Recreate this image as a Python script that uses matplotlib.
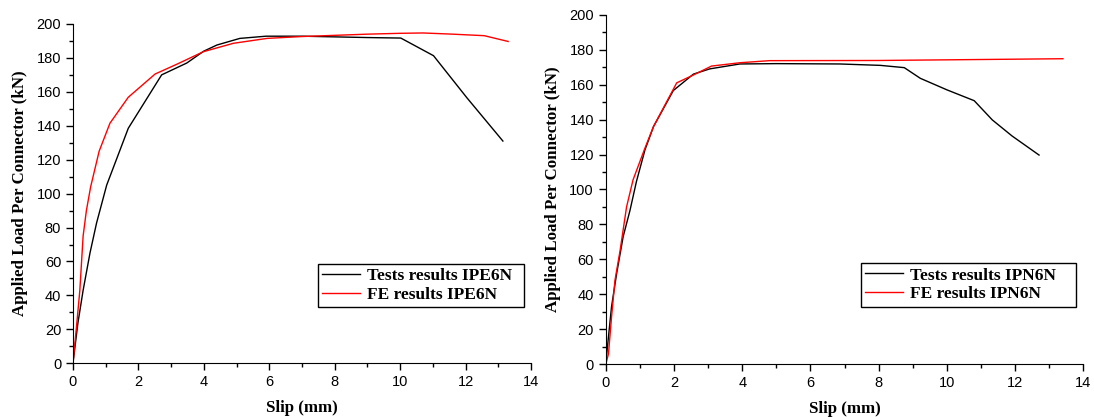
import matplotlib.pyplot as plt
from matplotlib.ticker import MultipleLocator

# IPE6N push-out test vs FE model
ipe_test_slip = [0, 0.15, 0.31, 0.52, 0.72, 1.03, 1.69, 2.71, 3.48, 4.0, 4.4, 5.1, 5.9, 7.0, 8.0, 9.0, 10.02, 11.02, 12.04, 13.14]
ipe_test_load = [0, 23.6, 43, 65, 82.6, 105, 138.5, 170, 177, 184, 187.6, 191.5, 192.8, 192.8, 192.4, 192.0, 191.7, 181.3, 156.5, 131]
ipe_fe_slip = [0, 0.1, 0.21, 0.31, 0.41, 0.54, 0.8, 1.13, 1.69, 2.51, 3.2, 3.99, 4.9, 5.93, 7.0, 8.0, 9.0, 10.0, 10.7, 11.6, 12.57, 13.3]
ipe_fe_load = [0, 20, 43, 75, 90, 104, 125, 141.5, 156.8, 170.5, 176.5, 183.7, 188.6, 191.5, 192.6, 193.3, 194.0, 194.5, 194.7, 194.0, 193.1, 189.7]

# IPN6N push-out test vs FE model
ipn_test_slip = [0, 0.05, 0.17, 0.32, 0.51, 0.71, 0.9, 1.15, 1.4, 1.98, 2.57, 3.05, 3.93, 5.0, 6.86, 8.05, 8.75, 9.22, 10.0, 10.8, 11.33, 11.91, 12.7]
ipn_test_load = [0, 10, 33, 52, 73, 88, 104.6, 122.7, 136, 156.6, 166, 169, 171.8, 172, 171.8, 171.0, 169.7, 163.6, 157, 150.8, 139.8, 130.6, 119.7]
ipn_fe_slip = [0, 0.08, 0.17, 0.27, 0.42, 0.61, 0.8, 1.13, 1.4, 2.08, 2.57, 3.1, 3.93, 4.8, 8.0, 13.4]
ipn_fe_load = [0, 6, 27, 48, 65, 90, 105.5, 122.7, 136, 161, 165.5, 170.6, 172.5, 173.7, 173.8, 174.8]

plt.rcParams['font.family'] = ['Liberation Sans', 'DejaVu Sans']
label_font = dict(family='Liberation Serif', weight='bold', size=12.2)

fig = plt.figure(figsize=(10.94, 4.17), dpi=100)
ax1 = fig.add_axes([0.0667, 0.1288, 0.4187, 0.8137])
ax2 = fig.add_axes([0.5537, 0.1264, 0.4366, 0.8384])

panels = [
    (ax1, ipe_test_slip, ipe_test_load, ipe_fe_slip, ipe_fe_load, 'IPE6N'),
    (ax2, ipn_test_slip, ipn_test_load, ipn_fe_slip, ipn_fe_load, 'IPN6N'),
]

for ax, ts, tl, fs, fl, name in panels:
    ax.plot(ts, tl, color='black', lw=1.0, label='Tests results ' + name)
    ax.plot(fs, fl, color='red', lw=1.0, label='FE results ' + name)
    ax.set_xlim(0, 14)
    ax.set_ylim(0, 200)
    ax.xaxis.set_major_locator(MultipleLocator(2))
    ax.xaxis.set_minor_locator(MultipleLocator(1))
    ax.yaxis.set_major_locator(MultipleLocator(20))
    ax.yaxis.set_minor_locator(MultipleLocator(10))
    ax.spines['top'].set_visible(False)
    ax.spines['right'].set_visible(False)
    ax.tick_params(which='major', direction='out', length=5, width=1, labelsize=10.5)
    ax.tick_params(which='minor', direction='out', length=3, width=1)
    ax.set_xlabel('Slip (mm)', fontdict=label_font, labelpad=8)
    ax.set_ylabel('Applied Load Per Connector (kN)', fontdict=label_font, labelpad=6)
    leg = ax.legend(loc='lower left', bbox_to_anchor=(0.534, 0.165, 0.45, 0.125),
                    mode='expand', fancybox=False, framealpha=1, edgecolor='black',
                    borderaxespad=0, handlelength=2.2, handletextpad=0.4,
                    borderpad=0.25, labelspacing=0.15,
                    prop=dict(family='Liberation Serif', weight='bold', size=12.5))
    leg.get_frame().set_linewidth(1.0)

fig.savefig('out.png', dpi=100)
